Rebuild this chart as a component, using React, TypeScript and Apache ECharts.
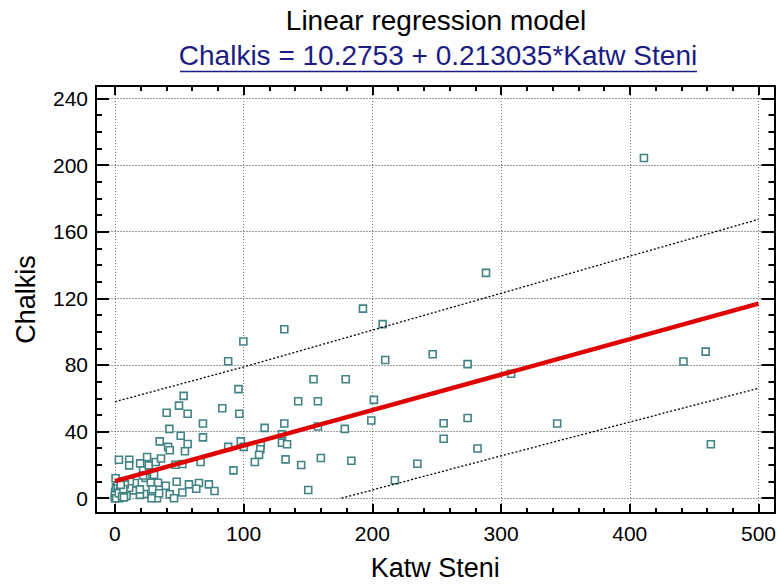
import React, { useEffect, useRef } from "react";
import * as echarts from "echarts";

// Scatter observations (Katw Steni, Chalkis)
const katwSteni = [
  288.3, 192.7, 208, 131.6, 210, 246.9, 274, 307.8, 154.3, 179.3,
  142.4, 157.7, 201.2, 131.6, 157.7, 199.2, 178.6, 255.4, 274, 129.8,
  129.8, 133.7, 255.4, 132.6, 160, 144.7, 183.7, 235, 281.7, 150.2,
  217.5, 411, 441.7, 459, 343.6, 463,
  99.8, 88, 96, 53.4, 49.8, 83.4, 40.2, 56.5, 96.7, 68.4,
  42.3, 116.3, 51.1, 68.4, 56.5, 34.8, 41.3, 42.6, 54.4, 88,
  97.8, 100.1, 113.3, 113, 112, 108.7, 92.1, 3.1, 11.1, 11.1,
  19.6, 25, 21.9, 26.3, 31.7, 35.8, 47, 52.4, 66.6, 23.8,
  30.4, 48, 39.5, 57.5, 65.3, 73, 77.4, 63.2, 52.4, 42.6,
  45.9, 32.7, 28.4, 22.7, 19.4, 14.2, 15.5, 11.1, 11.6, 7.7,
  9, 3.9, 5.2, 27.9, 33.5, 29.2, 19.4, 34.3, 21.9,
  0, 0.5, 1.2, 2, 0.2, 1.5, 2.8, 3.5, 0.8, 2.2,
  4, 0, 1, 3, 5.5, 6.5, 2, 0.5, 7, 4.5,
];
const chalkis = [
  135.3, 113.8, 104.5, 101.4, 83, 86.4, 80.5, 74.7, 71.4, 71.4,
  58.2, 58.2, 59, 44.8, 43, 46.6, 41.6, 45, 48.1, 38.3,
  33.3, 32.4, 35.7, 23.3, 24.1, 19.9, 22.5, 20.7, 29.8, 4.9,
  10.8, 204.3, 82.1, 88, 44.8, 32.4,
  94.1, 82.2, 65.5, 61.4, 55.6, 54, 51.3, 50.7, 50.7, 44.8,
  41.6, 42.2, 37.5, 36.5, 32.5, 34.1, 30.8, 28.8, 28.2, 30.8,
  34.1, 30.8, 32, 29.4, 26, 21.7, 16.7, 23.1, 23.1, 19.7,
  20.9, 24.7, 16.6, 19.7, 21.7, 23.8, 20.1, 20.5, 21.7, 12.2,
  14, 9.9, 7.5, 8.3, 9.1, 8.3, 4.3, 5.7, 3.4, 2.4,
  0, 0, 0, 2.5, 2, 4.7, 9.1, 6.3, 10.2, 8.3,
  1.4, 6.3, 3.4, 9.3, 9.3, 5.3, 5.3, 3, 13.6,
  0, 1.2, 2.5, 0.3, 3.8, 5, 1.8, 0, 6.5, 7.5,
  4.5, 1.8, 0, 3, 1, 5.5, 10, 12, 0.5, 8,
];

// Fitted model (from the title) and its prediction limits
const intercept = 10.2753;
const slope = 0.213035;
const fitX = [0, 500];
const upperLimitX = [0, 100, 200, 300, 400, 500];
const upperLimitY = [57.9, 78.8, 100.9, 123, 145.3, 167.4];
const lowerLimitX = [176, 200, 300, 400, 500];
const lowerLimitY = [0, 4.9, 25.4, 45.7, 66];

// Tick values
const xMajorTicks = [0, 100, 200, 300, 400, 500];
const xMinorTicks = [0, 20, 40, 60, 80, 100, 120, 140, 160, 180, 200, 220, 240, 260, 280, 300, 320, 340, 360, 380, 400, 420, 440, 460, 480, 500];
const yMajorTicks = [0, 40, 80, 120, 160, 200, 240];
const yMinorTicks = [0, 10, 20, 30, 40, 50, 60, 70, 80, 90, 100, 110, 120, 130, 140, 150, 160, 170, 180, 190, 200, 210, 220, 230, 240];

const X_MIN = -14.7;
const X_MAX = 512.4;
const Y_MIN = -8.9;
const Y_MAX = 247.5;

const FONT = '"Liberation Sans", Arial, sans-serif';

export default function App() {
  const ref = useRef<HTMLDivElement>(null);

  useEffect(() => {
    if (!ref.current) return;
    const chart = echarts.init(ref.current, undefined, { renderer: "svg" });

    const tickLine = { color: "#000", width: 2 };
    const xAxisBase = (position: string, ticks: number[], len: number, main: boolean) => ({
      type: "value",
      position,
      min: X_MIN,
      max: X_MAX,
      axisLine: { show: main, onZero: false, lineStyle: { color: "#000", width: 2 } },
      axisTick: { show: true, inside: true, length: len, customValues: ticks, lineStyle: tickLine },
      axisLabel: main && position === "bottom"
        ? { show: true, customValues: xMajorTicks, fontSize: 21, color: "#000", fontFamily: FONT, margin: 10 }
        : { show: false },
      splitLine: main && position === "bottom"
        ? { show: true, lineStyle: { color: "#7a7a7a", width: 1, type: [1, 2] } }
        : { show: false },
      ...(main && position === "bottom"
        ? {
            name: "Katw Steni",
            nameLocation: "middle",
            nameGap: 41,
            nameTextStyle: { fontSize: 27, color: "#000", fontFamily: FONT },
          }
        : {}),
    });
    const yAxisBase = (position: string, ticks: number[], len: number, main: boolean) => ({
      type: "value",
      position,
      min: Y_MIN,
      max: Y_MAX,
      axisLine: { show: main, onZero: false, lineStyle: { color: "#000", width: 2 } },
      axisTick: { show: true, inside: true, length: len, customValues: ticks, lineStyle: tickLine },
      axisLabel: main && position === "left"
        ? { show: true, customValues: yMajorTicks, fontSize: 21, color: "#000", fontFamily: FONT, margin: 8 }
        : { show: false },
      splitLine: main && position === "left"
        ? { show: true, lineStyle: { color: "#9a9a9a", width: 1, type: [2, 1] } }
        : { show: false },
      ...(main && position === "left"
        ? {
            name: "Chalkis",
            nameLocation: "middle",
            nameGap: 57,
            nameTextStyle: { fontSize: 27, color: "#000", fontFamily: FONT },
          }
        : {}),
    });

    const option: any = {
      animation: false,
      backgroundColor: "#fff",
      grid: { left: 96, right: 2, top: 86, bottom: 67, containLabel: false },
      graphic: [
        {
          type: "text",
          x: 436,
          y: 6,
          style: {
            text: "Linear regression model",
            fontSize: 28,
            fontFamily: FONT,
            fill: "#000",
            align: "center",
            verticalAlign: "top",
          },
        },
        {
          type: "text",
          x: 438,
          y: 41,
          style: {
            text: "Chalkis = 10.2753 + 0.213035*Katw Steni",
            fontSize: 28,
            fontFamily: FONT,
            fill: "#1c1c84",
            align: "center",
            verticalAlign: "top",
          },
        },
        {
          type: "line",
          shape: { x1: 180, y1: 71.5, x2: 697, y2: 71.5 },
          style: { stroke: "#1c1c84", lineWidth: 1.5 },
        },
      ],
      xAxis: [
        xAxisBase("bottom", xMajorTicks, 9, true),
        xAxisBase("bottom", xMinorTicks, 5, false),
        xAxisBase("top", xMajorTicks, 9, true),
        xAxisBase("top", xMinorTicks, 5, false),
      ],
      yAxis: [
        yAxisBase("left", yMajorTicks, 13, true),
        yAxisBase("left", yMinorTicks, 6, false),
        yAxisBase("right", yMajorTicks, 13, true),
        yAxisBase("right", yMinorTicks, 6, false),
      ],
      series: [
        {
          type: "scatter",
          xAxisIndex: 0,
          yAxisIndex: 0,
          data: katwSteni.map((x, i) => [x, chalkis[i]]),
          symbol: "rect",
          symbolSize: 7,
          itemStyle: { color: "#fff", borderColor: "#428484", borderWidth: 1.6, opacity: 1 },
          z: 3,
        },
        {
          type: "line",
          xAxisIndex: 0,
          yAxisIndex: 0,
          data: upperLimitX.map((x, i) => [x, upperLimitY[i]]),
          showSymbol: false,
          symbol: "none",
          lineStyle: { color: "#000", width: 1.3, type: [2, 2] },
          z: 4,
        },
        {
          type: "line",
          xAxisIndex: 0,
          yAxisIndex: 0,
          data: lowerLimitX.map((x, i) => [x, lowerLimitY[i]]),
          showSymbol: false,
          symbol: "none",
          lineStyle: { color: "#000", width: 1.3, type: [2, 2] },
          z: 4,
        },
        {
          type: "line",
          xAxisIndex: 0,
          yAxisIndex: 0,
          data: fitX.map((x) => [x, intercept + slope * x]),
          showSymbol: false,
          symbol: "none",
          lineStyle: { color: "#e00000", width: 4.5 },
          z: 5,
        },
      ],
    };

    chart.setOption(option);
    return () => chart.dispose();
  }, []);

  return (
    <div
      ref={ref}
      style={{ position: "absolute", left: 0, top: 0, width: 779, height: 586, background: "#fff" }}
    />
  );
}
